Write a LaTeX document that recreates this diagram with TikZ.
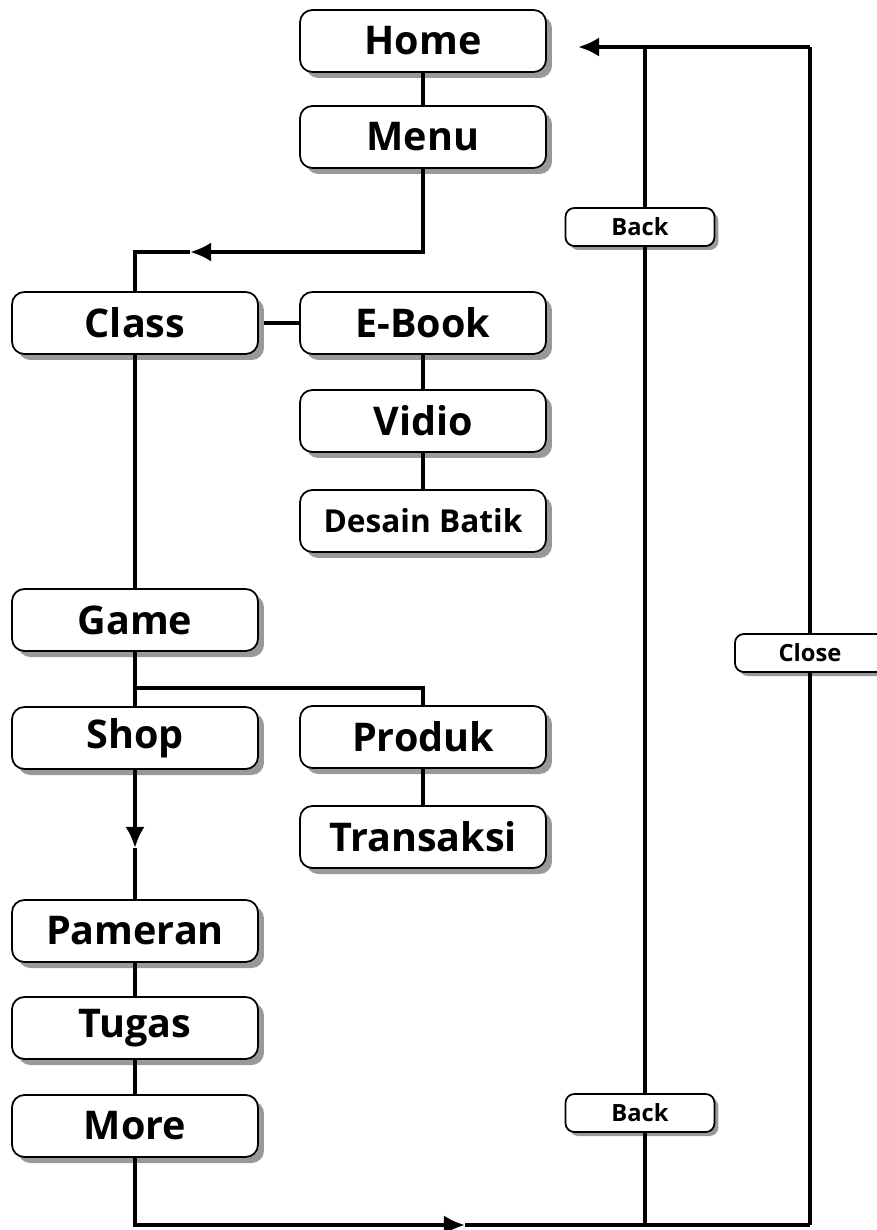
\documentclass[tikz,border=0pt]{standalone}
\usepackage{fontspec}
\setsansfont{Open Sans}
\usetikzlibrary{arrows.meta,shadows}

\tikzset{
  basebox/.style={draw, line width=1pt, fill=white, inner sep=0pt},
  menubox/.style={basebox, rounded corners=7pt, minimum width=4.92cm, minimum height=1.24cm,
    font=\sffamily\bfseries\fontsize{22.5}{26}\selectfont,
    drop shadow={shadow xshift=0.12cm, shadow yshift=-0.12cm, fill=black!40, opacity=1}},
  smallbox/.style={basebox, rounded corners=5pt, minimum width=2.98cm, minimum height=0.76cm,
    font=\sffamily\bfseries\fontsize{13.5}{16}\selectfont,
    drop shadow={shadow xshift=0.08cm, shadow yshift=-0.08cm, fill=black!40, opacity=1}},
  link/.style={line width=1.9pt},
  flow/.style={line width=2.6pt, -{Latex[length=12pt,width=11pt]}}
}

\begin{document}
\begin{tikzpicture}[x=0.02cm, y=-0.02cm]
	\useasboundingbox (0,0) rectangle (876,1230);
	\fill[white] (0,0) rectangle (876,1230);

	% main column
	\node[menubox] (home)    at (423,41)   {Home};
	\node[menubox] (menu)    at (423,137)  {Menu};
	\node[menubox] (class)   at (135,323)  {Class};
	\node[menubox] (game)    at (135,620)  {Game};
	\node[menubox] (shop)    at (135,738)  {Shop};
	\node[menubox] (pameran) at (135,931)  {Pameran};
	\node[menubox] (tugas)   at (135,1028) {Tugas};
	\node[menubox] (more)    at (135,1126) {More};

	% sub menus
	\node[menubox] (ebook)     at (423,323) {E-Book};
	\node[menubox] (vidio)     at (423,421) {Vidio};
	\node[menubox, font=\sffamily\bfseries\fontsize{18}{22}\selectfont] (batik) at (423,521) {Desain Batik};
	\node[menubox] (produk)    at (423,737) {Produk};
	\node[menubox] (transaksi) at (423,837) {Transaksi};

	% back and close
	\node[smallbox] (back1) at (640,227)  {Back};
	\node[smallbox] (back2) at (640,1113) {Back};
	\node[smallbox, minimum width=3cm] (close) at (810,653) {Close};

	\coordinate (c1) at (190,252);
	\coordinate (c2) at (135,688);
	\coordinate (c3) at (135,848);
	\coordinate (c4) at (465,1225);
	\coordinate (c5) at (810,1225);
	\coordinate (c6) at (645,1225);
	\coordinate (c7) at (645,47);
	\coordinate (c8) at (810,47);
	\coordinate (c9) at (578,47);

	\draw [link] (home) -- (menu);
	\draw [flow] (menu.south) |- (c1);
	\draw [link] (c1) -| (class.north);

	\draw [link] (ebook.west) -- ++(-0.7cm,0);
	\draw [link] (ebook) -- (vidio);
	\draw [link] (vidio) -- (batik);

	\draw [link] (class) -- (game);
	\draw [link] (game) -- (shop);
	\draw [link] (c2) -| (produk.north);
	\draw [link] (produk) -- (transaksi);

	\draw [flow] (shop.south) -- (c3);
	\draw [link] (c3) -- (pameran.north);
	\draw [link] (pameran) -- (tugas);
	\draw [link] (tugas) -- (more);

	\draw [flow] (more.south) |- (c4);
	\draw [link] (c4) -- (c5);

	\draw [link] (c6) -- (c6 |- back2.south);
	\draw [link] (c6 |- back2.north) -- (c6 |- back1.south);
	\draw [link] (c6 |- back1.north) -- (c7);

	\draw [link] (c5) -- (close);
	\draw [link] (close) -- (c8);
	\draw [flow] (c8) -- (c9);
\end{tikzpicture}
\end{document}
